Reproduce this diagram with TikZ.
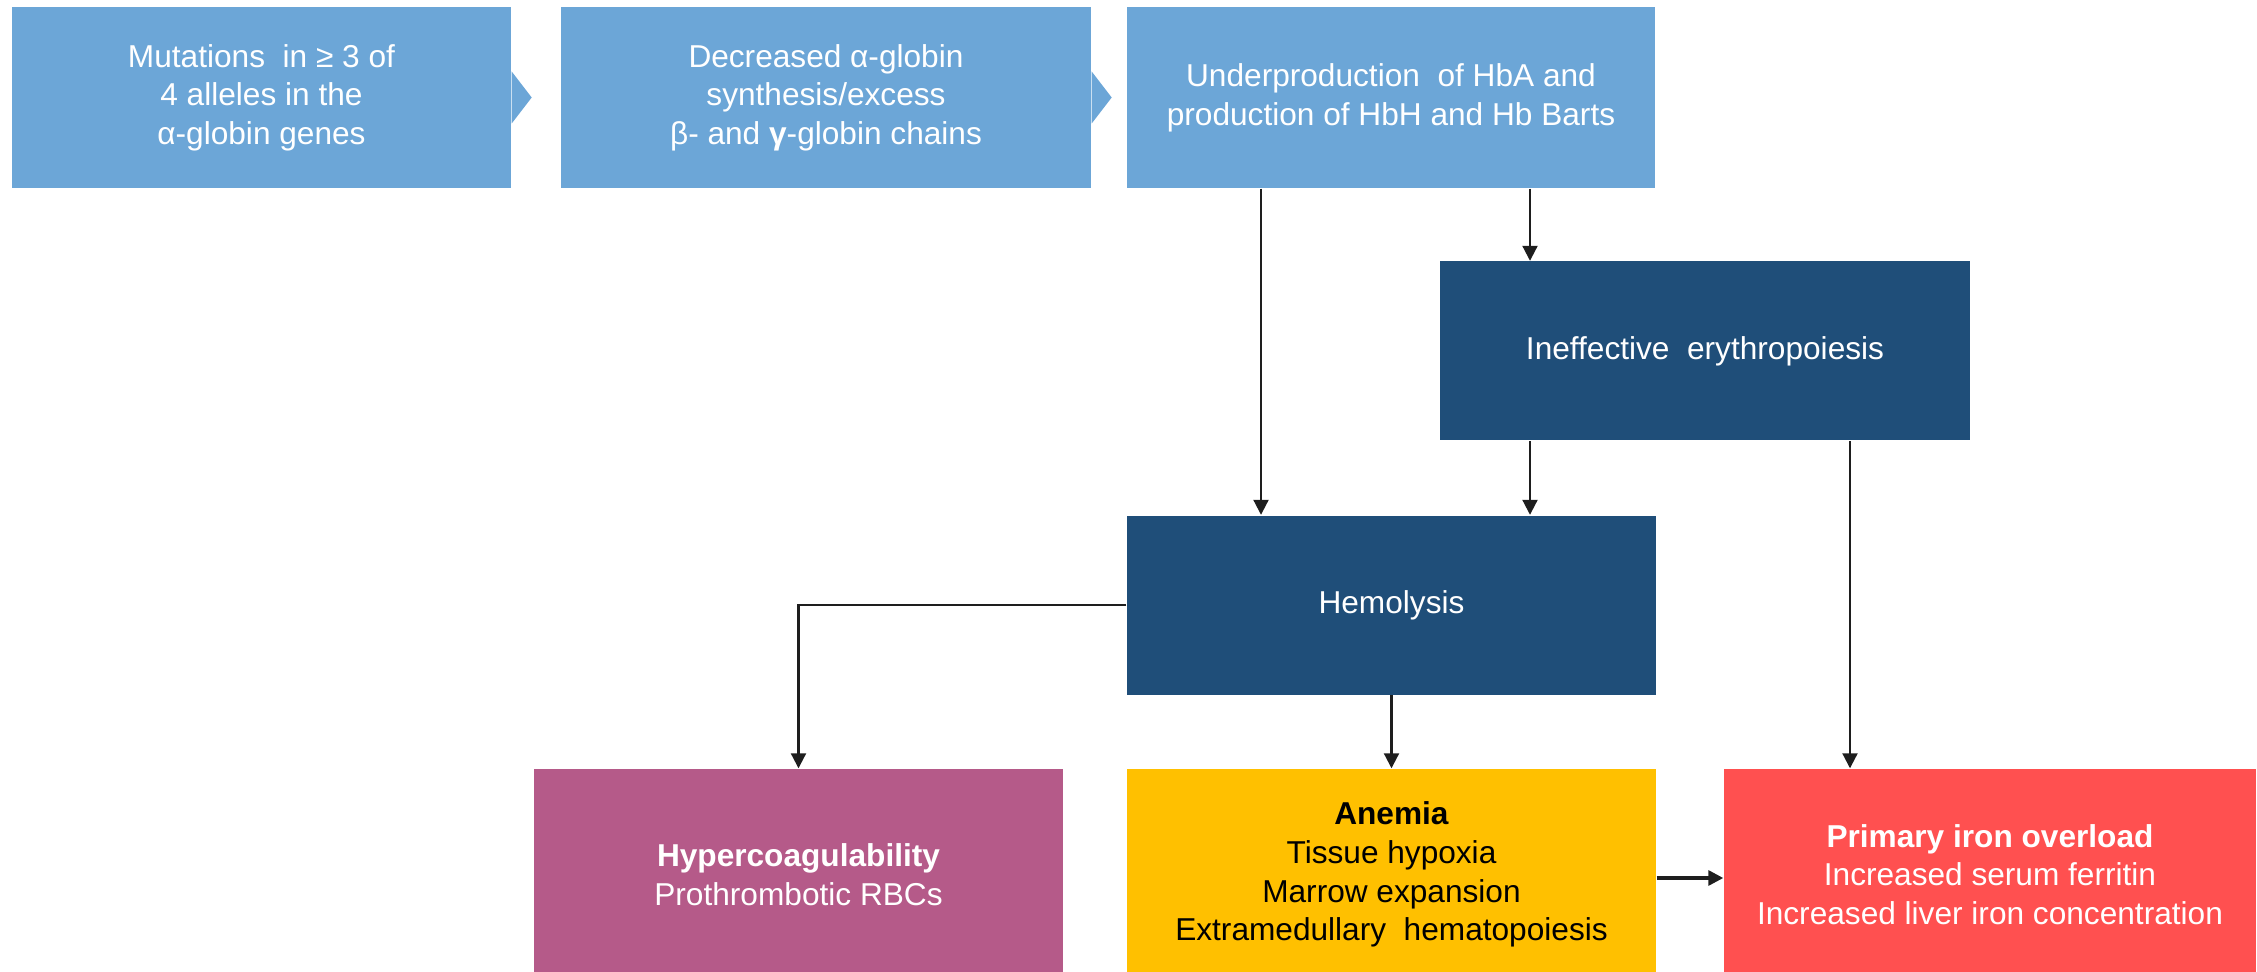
\documentclass[tikz,border=0pt]{standalone}
\usepackage{fontspec}
\setmainfont{Liberation Sans}
\usetikzlibrary{arrows.meta}

\definecolor{lightblue}{RGB}{108,166,215}
\definecolor{darkblue}{RGB}{31,78,121}
\definecolor{mauve}{RGB}{181,90,137}
\definecolor{gold}{RGB}{255,192,0}
\definecolor{coral}{RGB}{255,80,80}
\definecolor{linegray}{RGB}{30,30,30}

\begin{document}
\begin{tikzpicture}[x=0.1mm, y=-0.1mm,
    every node/.style={rectangle,inner sep=0pt,align=center,
        font=\fontsize{9}{11}\selectfont},
    topbox/.style={fill=lightblue,text=white,minimum height=18.1mm},
    midbox/.style={fill=darkblue,text=white,minimum width=52.9mm,minimum height=17.9mm},
    endbox/.style={minimum width=52.9mm,minimum height=21.1mm},
    conn/.style={draw=linegray,line width=0.6pt,
        -{Triangle[length=1.5mm,width=1.5mm]}},
    >={Triangle[length=1.5mm,width=1.5mm]}  % small filled heads
]
    \useasboundingbox (0,0) rectangle (2257,972);

    % top row
    \node[topbox,minimum width=49.9mm] (mut) at (261.5,97.5)
        {Mutations\ \ in ≥ 3 of\\4 alleles in the\\α-globin genes};
    \node[topbox,minimum width=53mm] (dec) at (826,97.5)
        {Decreased α-globin\\synthesis/excess\\β- and \textbf{γ}-globin chains};
    \node[topbox,minimum width=52.8mm] (under) at (1391,97.5)
        {Underproduction\ \ of HbA and\\production of HbH and Hb Barts};

    \foreach \b in {mut,dec}
        \fill[lightblue] ([yshift=2.6mm]\b.east) -- ([xshift=2mm]\b.east)
            -- ([yshift=-2.6mm]\b.east) -- cycle;

    % middle
    \node[midbox,minimum width=53mm] (ineff) at (1705,351) {Ineffective\ \ erythropoiesis};
    \node[midbox] (hemo) at (1391.5,605) {Hemolysis};

    % bottom row
    \node[endbox,fill=mauve,text=white] (hyper) at (798.5,874.5)
        {\textbf{Hypercoagulability}\\Prothrombotic RBCs};
    \node[endbox,fill=gold,text=black] (anemia) at (1391.5,874.5)
        {\textbf{Anemia}\\Tissue hypoxia\\Marrow expansion\\Extramedullary\ \ hematopoiesis};
    \node[endbox,fill=coral,text=white,minimum width=53.2mm] (iron) at (1990,874.5)
        {\textbf{Primary iron overload}\\Increased serum ferritin\\Increased liver iron concentration};

    \coordinate (xa) at (1261,0);
    \coordinate (xb) at (1530,0);
    \coordinate (xc) at (1850,0);

    \draw[conn] (under.south -| xa) -- (hemo.north -| xa);
    \draw[conn] (under.south -| xb) -- (ineff.north -| xb);
    \draw[conn] (ineff.south -| xb) -- (hemo.north -| xb);
    \draw[conn] (ineff.south -| xc) -- (iron.north -| xc);
    \draw[conn] (hemo.west) -| (hyper.north);
    \draw[conn] (hemo.south) -- (anemia.north);
    \draw[conn,line width=0.9pt] ([yshift=-0.35mm]anemia.east) -- ([yshift=-0.35mm]iron.west);
\end{tikzpicture}
\end{document}
